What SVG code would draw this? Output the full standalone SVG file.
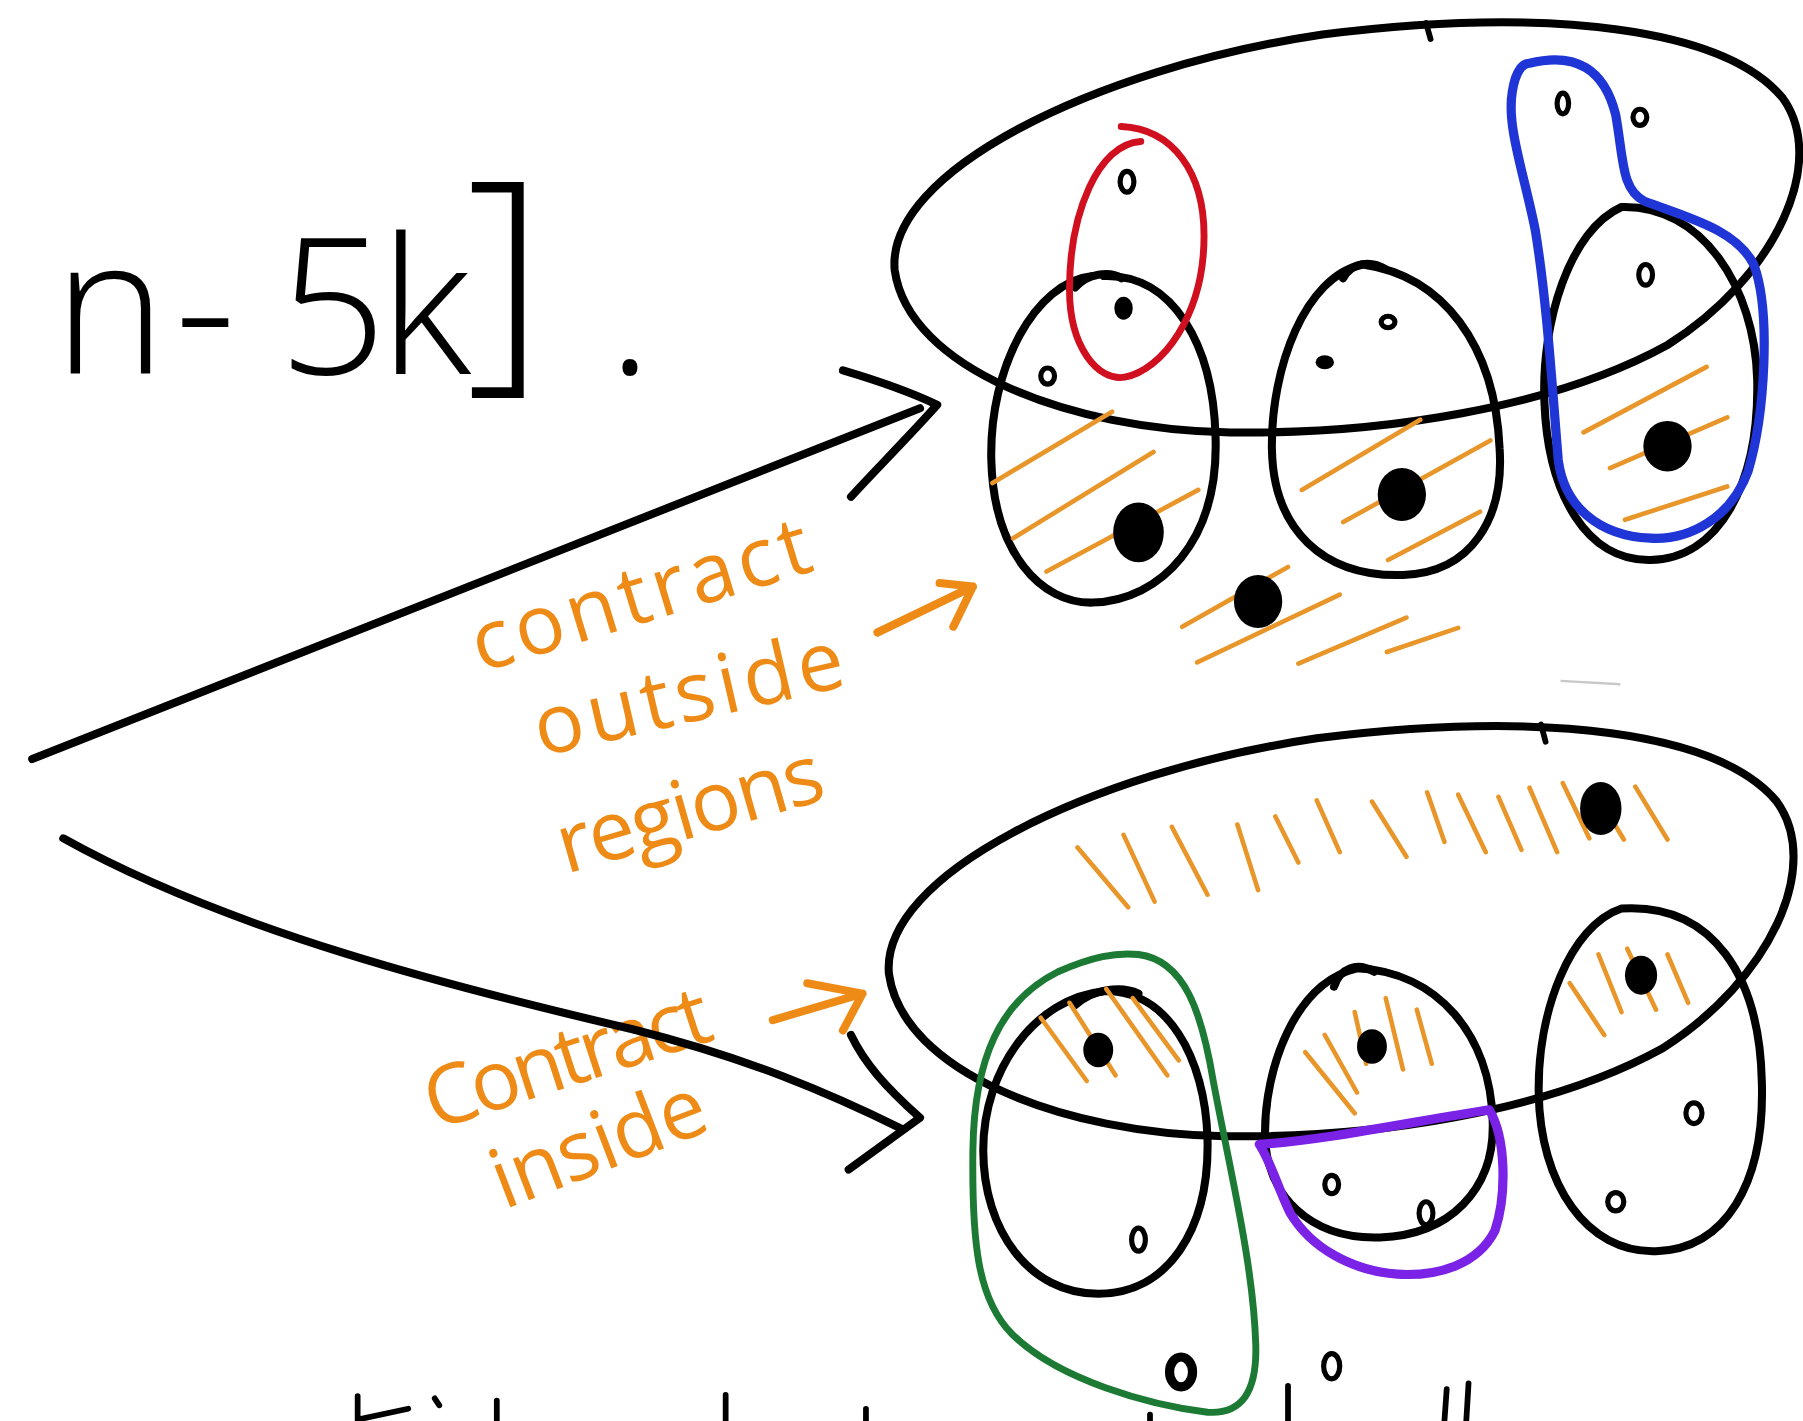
<svg xmlns="http://www.w3.org/2000/svg" width="1803" height="1421" viewBox="0 0 1803 1421">
<style>
.ink{fill:none;stroke:#000;stroke-width:7;stroke-linecap:round;stroke-linejoin:round}
.thin{fill:none;stroke:#000;stroke-width:5;stroke-linecap:round}
.hatch{fill:none;stroke:#e8962a;stroke-width:4;stroke-linecap:round}
.dot{fill:#000}
.ring{fill:none;stroke:#000;stroke-width:4.5}
.lbl{font-family:"Open Sans","Liberation Sans",sans-serif;fill:#ee8b16;font-size:72px}
.oarrow{fill:none;stroke:#ee8b16;stroke-width:7;stroke-linecap:round;stroke-linejoin:round}
.big{font-family:"Open Sans","Liberation Sans",sans-serif;font-weight:300;font-size:165px;fill:#000}
.red{fill:none;stroke:#d0101f;stroke-width:6;stroke-linecap:round}
.blue{fill:none;stroke:#1f35d6;stroke-width:8;stroke-linejoin:round}
.green{fill:none;stroke:#1d7a34;stroke-width:6}
.purple{fill:none;stroke:#7a22e6;stroke-width:8;stroke-linejoin:round}
</style>
<rect width="1803" height="1421" fill="#fff"/>
<g transform="scale(1.15)">

<g id="title">
<text class="big" x="47 152 242 330" y="325">n-5k<tspan x="405" y="312" font-size="215">]</tspan><tspan x="528" y="325">.</tspan></text>
</g>

<!-- upper figure -->
<g id="upper-set">
<path class="ink" d="M778,235 C770,150 950,60 1150,30 C1350,5 1500,25 1550,85 C1590,140 1545,240 1450,300 C1350,355 1200,378 1070,376 C930,374 790,320 778,235 Z"/>
<path class="thin" d="M1240,20 L1244,34"/>
</g>
<g id="upper-bag-a">
<path class="ink" d="M950,240 C900,245 860,320 862,400 C864,480 905,525 950,524 C1010,522 1060,470 1057,380 C1055,300 1020,238 960,240"/>
<path class="ink" d="M935,250 C945,238 965,235 975,242"/>
</g>
<g id="upper-bag-b">
<path class="ink" d="M1185,230 C1135,240 1105,320 1106,390 C1107,460 1150,502 1220,500 C1280,498 1308,450 1304,390 C1300,300 1255,240 1185,230 Z"/>
<path class="ink" d="M1168,242 C1175,228 1192,226 1205,234"/>
</g>
<g id="upper-bag-c">
<path class="ink" d="M1410,180 C1365,200 1340,280 1343,350 C1346,430 1380,488 1435,487 C1495,486 1530,420 1528,330 C1526,250 1480,178 1410,180 Z"/>
</g>
<g id="red-loop">
<path class="red" d="M975,110 C1020,112 1047,150 1047,205 C1047,275 1010,322 978,328 C955,332 930,302 930,252 C930,185 955,125 992,123"/>
</g>
<g id="blue-loop">
<path class="blue" d="M1330,55 C1370,45 1395,60 1405,100 C1412,140 1410,165 1430,175 C1470,190 1510,200 1525,230 C1540,270 1535,360 1520,410 C1505,450 1470,470 1435,468 C1390,466 1360,440 1355,400 C1350,340 1345,260 1335,200 C1325,150 1310,110 1315,80 C1318,60 1325,55 1330,55 Z"/>
</g>
<g id="upper-hatching">
<path class="hatch" d="M863,420 L967,358 M881,468 L1003,393 M910,497 L1042,426"/>
<path class="hatch" d="M1132,426 L1235,365 M1168,454 L1296,383 M1207,487 L1287,445"/>
<path class="hatch" d="M1377,376 L1484,319 M1400,407 L1502,363 M1413,452 L1502,423"/>
<path class="hatch" d="M1028,545 L1120,493 M1041,576 L1165,517 M1129,577 L1223,537 M1206,567 L1268,546"/>
</g>
<g id="upper-vertices">
<ellipse class="ring" cx="980" cy="158" rx="6" ry="9"/>
<ellipse class="dot" cx="977" cy="268" rx="8" ry="10"/>
<ellipse class="ring" cx="911" cy="327" rx="6" ry="7"/>
<ellipse class="dot" cx="1152" cy="315" rx="8" ry="6"/>
<ellipse class="ring" cx="1207" cy="280" rx="6" ry="5"/>
<ellipse class="ring" cx="1359" cy="90" rx="5" ry="9"/>
<ellipse class="ring" cx="1426" cy="102" rx="6" ry="7"/>
<ellipse class="ring" cx="1431" cy="239" rx="6" ry="9"/>
<ellipse class="dot" cx="990" cy="463" rx="22" ry="26"/>
<ellipse class="dot" cx="1219" cy="430" rx="21" ry="23"/>
<ellipse class="dot" cx="1450" cy="388" rx="21" ry="22"/>
<ellipse class="dot" cx="1094" cy="523" rx="21" ry="23"/>
</g>
<path d="M1357,592 L1409,595" stroke="#c8c8c8" stroke-width="2" fill="none"/>

<!-- lower figure -->
<g id="lower-set">
<path class="ink" d="M773,847 C765,762 945,672 1145,642 C1345,617 1495,637 1545,697 C1585,752 1540,852 1445,912 C1345,967 1195,990 1065,988 C925,986 785,932 773,847 Z"/>
<path class="thin" d="M1340,630 L1344,645"/>
</g>
<g id="lower-bag-d">
<path class="ink" d="M960,862 C900,868 855,930 855,1000 C855,1070 895,1125 955,1125 C1015,1125 1052,1070 1050,990 C1048,920 1015,860 960,862 Z"/>
<path class="ink" d="M935,874 C950,860 975,857 990,864"/>
</g>
<g id="lower-bag-e">
<path class="ink" d="M1180,842 C1125,855 1100,930 1100,985 C1100,1040 1140,1078 1200,1076 C1260,1074 1300,1035 1298,975 C1296,900 1250,845 1180,842"/>
<path class="ink" d="M1160,858 C1165,842 1180,836 1195,845"/>
</g>
<g id="lower-bag-f">
<path class="ink" d="M1410,790 C1365,805 1337,880 1338,950 C1339,1030 1380,1090 1440,1088 C1500,1086 1535,1030 1532,940 C1530,850 1490,785 1410,790 Z"/>
</g>
<g id="green-loop">
<path class="green" d="M990,830 C1030,835 1045,880 1055,940 C1070,1020 1090,1100 1092,1170 C1093,1210 1080,1230 1050,1228 C1000,1222 920,1200 880,1160 C850,1130 845,1080 846,1000 C847,920 870,870 920,845 C950,832 970,828 990,830 Z"/>
</g>
<g id="purple-loop">
<path class="purple" d="M1095,995 C1150,992 1230,975 1295,965 C1310,990 1310,1040 1300,1070 C1285,1100 1250,1110 1215,1108 C1175,1105 1140,1085 1122,1055 C1110,1030 1105,1010 1095,995 Z"/>
</g>
<g id="lower-hatching">
<path class="hatch" d="M937,737 L981,789 M977,726 L1004,784 M1019,719 L1050,778 M1076,717 L1094,774 M1109,710 L1129,750 M1145,696 L1165,741 M1193,697 L1223,745 M1241,689 L1256,732 M1268,691 L1292,741 M1303,693 L1323,739 M1330,685 L1354,741 M1359,681 L1382,729 M1385,685 L1412,730 M1422,684 L1450,730"/>
<path class="hatch" d="M905,885 L945,940 M930,872 L970,935 M962,860 L1015,935 M985,868 L1025,922"/>
<path class="hatch" d="M1135,915 L1178,968 M1152,900 L1180,950 M1178,880 L1188,925 M1205,868 L1220,930 M1232,878 L1245,925"/>
<path class="hatch" d="M1365,855 L1395,900 M1390,830 L1410,880 M1415,825 L1440,878 M1450,830 L1468,872"/>
</g>
<g id="lower-vertices">
<ellipse class="dot" cx="1392" cy="703" rx="18" ry="23"/>
<ellipse class="dot" cx="955" cy="913" rx="13" ry="15"/>
<ellipse class="dot" cx="1193" cy="910" rx="13" ry="15"/>
<ellipse class="dot" cx="1427" cy="848" rx="14" ry="17"/>
<ellipse class="ring" cx="990" cy="1078" rx="6" ry="10"/>
<ellipse class="ring" cx="1158" cy="1030" rx="6" ry="8"/>
<ellipse class="ring" cx="1240" cy="1055" rx="6" ry="10"/>
<ellipse class="ring" cx="1473" cy="968" rx="7" ry="9"/>
<ellipse class="ring" cx="1405" cy="1045" rx="7" ry="8"/>
<ellipse cx="1027" cy="1193" rx="10" ry="13" fill="none" stroke="#000" stroke-width="8"/>
<ellipse class="ring" cx="1158" cy="1188" rx="7" ry="11" stroke-width="6"/>
</g>

<!-- labels -->
<g id="label-outside">
<text class="lbl" transform="rotate(-17 418 585)" x="418" y="585" textLength="305" lengthAdjust="spacing">contract</text>
<text class="lbl" transform="rotate(-13 470 658)" x="470" y="658" textLength="275" lengthAdjust="spacing">outside</text>
<text class="lbl" transform="rotate(-16 492 760)" x="492" y="760" textLength="238" lengthAdjust="spacing">regions</text>
</g>
<g id="label-inside">
<text class="lbl" transform="rotate(-18 378 983)" x="378" y="983" textLength="258" lengthAdjust="spacing">Contract</text>
<text class="lbl" transform="rotate(-21 438 1052)" x="438" y="1052" textLength="195" lengthAdjust="spacing">inside</text>
</g>

<g id="connectors">
<path class="ink" d="M28,660 L800,355"/>
<path class="ink" d="M733,322 C760,330 790,340 815,352 C790,380 760,410 740,432"/>
<path class="ink" d="M55,729 C200,810 400,860 550,895 C650,920 720,950 785,982"/>
<path class="ink" d="M740,900 C752,925 770,945 800,972 L738,1017"/>
<path class="oarrow" d="M763,550 L846,510 M817,507 L846,510 L829,545"/>
<path class="oarrow" d="M672,887 L750,864 M702,855 L750,864 L733,896"/>
</g>

<g id="cut-off-bottom">
<path class="thin" d="M311,1214 L311,1236 M313,1234 L355,1225 M378,1216 L382,1222 M432,1218 L432,1236 M631,1213 L631,1236 M753,1225 L753,1236 M1000,1230 L1000,1236 M1120,1205 L1120,1236 M1258,1208 L1256,1236 M1277,1203 L1275,1236"/>
</g>
</g>
</svg>
